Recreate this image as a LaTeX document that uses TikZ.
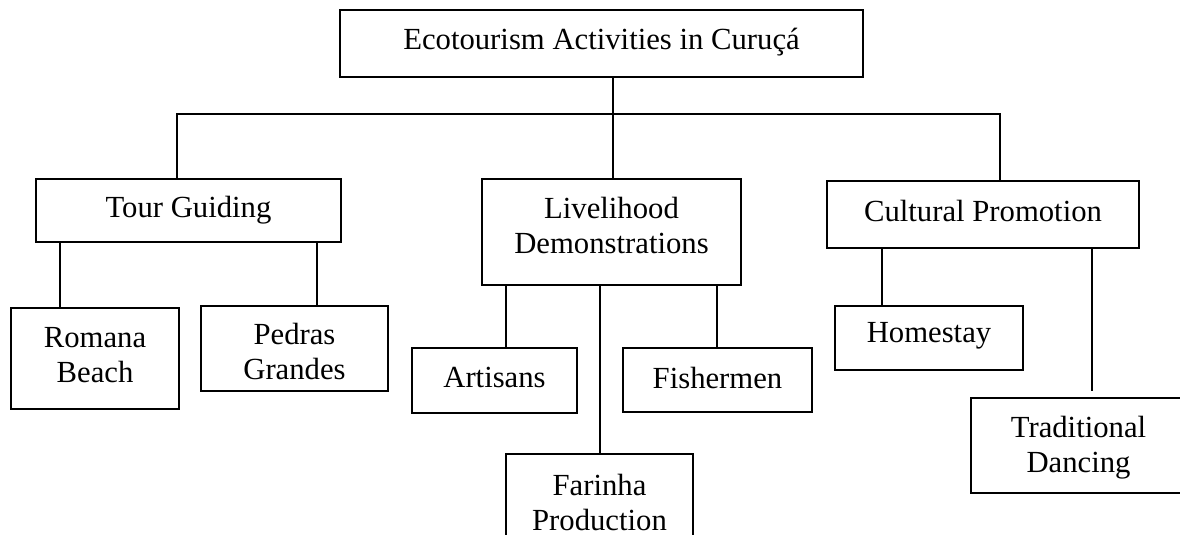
\documentclass[tikz,border=0pt]{standalone}
\usepackage{fontspec}
\setmainfont{Liberation Serif}
\begin{document}
\begin{tikzpicture}[x=1pt,y=-1pt,
  box/.style={draw=black,line width=1.5pt,inner sep=0pt,fill=white},
  lbl/.style={inner sep=0pt,anchor=north,align=center,font=\fontsize{30.7}{35}\selectfont},
  conn/.style={draw=black,line width=1.5pt}]
\useasboundingbox (0,0) rectangle (1180,535);
\clip (0,0) rectangle (1180,535);
\fill[white] (0,0) rectangle (1180,535);
% boxes
\node[box,minimum width=523pt,minimum height=67pt] (top) at (601.5,43.5) {};
\node[box,minimum width=305pt,minimum height=63pt] (tour) at (188.5,210.5) {};
\node[box,minimum width=259pt,minimum height=106pt] (live) at (611.5,232) {};
\node[box,minimum width=312pt,minimum height=67pt] (cult) at (983,214.5) {};
\node[box,minimum width=168pt,minimum height=101pt] (romana) at (95,358.5) {};
\node[box,minimum width=187pt,minimum height=85pt] (pedras) at (294.5,348.5) {};
\node[box,minimum width=165pt,minimum height=65pt] (artisans) at (494.5,380.5) {};
\node[box,minimum width=189pt,minimum height=64pt] (fisher) at (717.5,380) {};
\node[box,minimum width=187pt,minimum height=106pt] (farinha) at (599.5,507) {};
\node[box,minimum width=188pt,minimum height=64pt] (homestay) at (929,338) {};
\node[box,minimum width=215pt,minimum height=95pt] (trad) at (1078.5,445.5) {};
% labels
\node[lbl] (top-t) at ([yshift=-18.5pt]top.north) {Ecotourism Activities in Curuçá};
\node[lbl] (tour-t) at ([yshift=-18pt]tour.north) {Tour Guiding};
\node[lbl] (live-t) at ([yshift=-18.5pt]live.north) {Livelihood\\Demonstrations};
\node[lbl] (cult-t) at ([yshift=-19.5pt]cult.north) {Cultural Promotion};
\node[lbl] (romana-t) at ([yshift=-19.5pt]romana.north) {Romana\\Beach};
\node[lbl] (pedras-t) at ([yshift=-18pt]pedras.north) {Pedras\\Grandes};
\node[lbl] (artisans-t) at ([yshift=-19.5pt]artisans.north) {Artisans};
\node[lbl] (fisher-t) at ([yshift=-19.5pt]fisher.north) {Fishermen};
\node[lbl] (farinha-t) at ([yshift=-20.5pt]farinha.north) {Farinha\\Production};
\node[lbl] (homestay-t) at ([yshift=-17pt]homestay.north) {Homestay};
\node[lbl] (trad-t) at ([yshift=-19pt]trad.north) {Traditional\\Dancing};
% connectors
\coordinate (busL) at (177,114);
\coordinate (busR) at (1000,114);
\coordinate (busM) at (613,114);
\draw[conn] (busM |- top.south) -- (busM);
\draw[conn] (tour.north -| busL) -- (busL) -- (busR) -- (cult.north -| busR);
\draw[conn] (busM) -- (live.north -| busM);
\draw[conn] ([xshift=-35pt]romana.north |- tour.south) -- ([xshift=-35pt]romana.north);
\draw[conn] ([xshift=22.5pt]pedras.north |- tour.south) -- ([xshift=22.5pt]pedras.north);
\draw[conn] ([xshift=11.5pt]artisans.north |- live.south) -- ([xshift=11.5pt]artisans.north);
\draw[conn] ([xshift=-0.5pt]fisher.north |- live.south) -- ([xshift=-0.5pt]fisher.north);
\draw[conn] ([xshift=0.5pt]farinha.north |- live.south) -- ([xshift=0.5pt]farinha.north);
\draw[conn] ([xshift=-47pt]homestay.north |- cult.south) -- ([xshift=-47pt]homestay.north);
\draw[conn] ([xshift=13.5pt]trad.north |- cult.south) -- ([xshift=13.5pt,yshift=6pt]trad.north);
\end{tikzpicture}
\end{document}
